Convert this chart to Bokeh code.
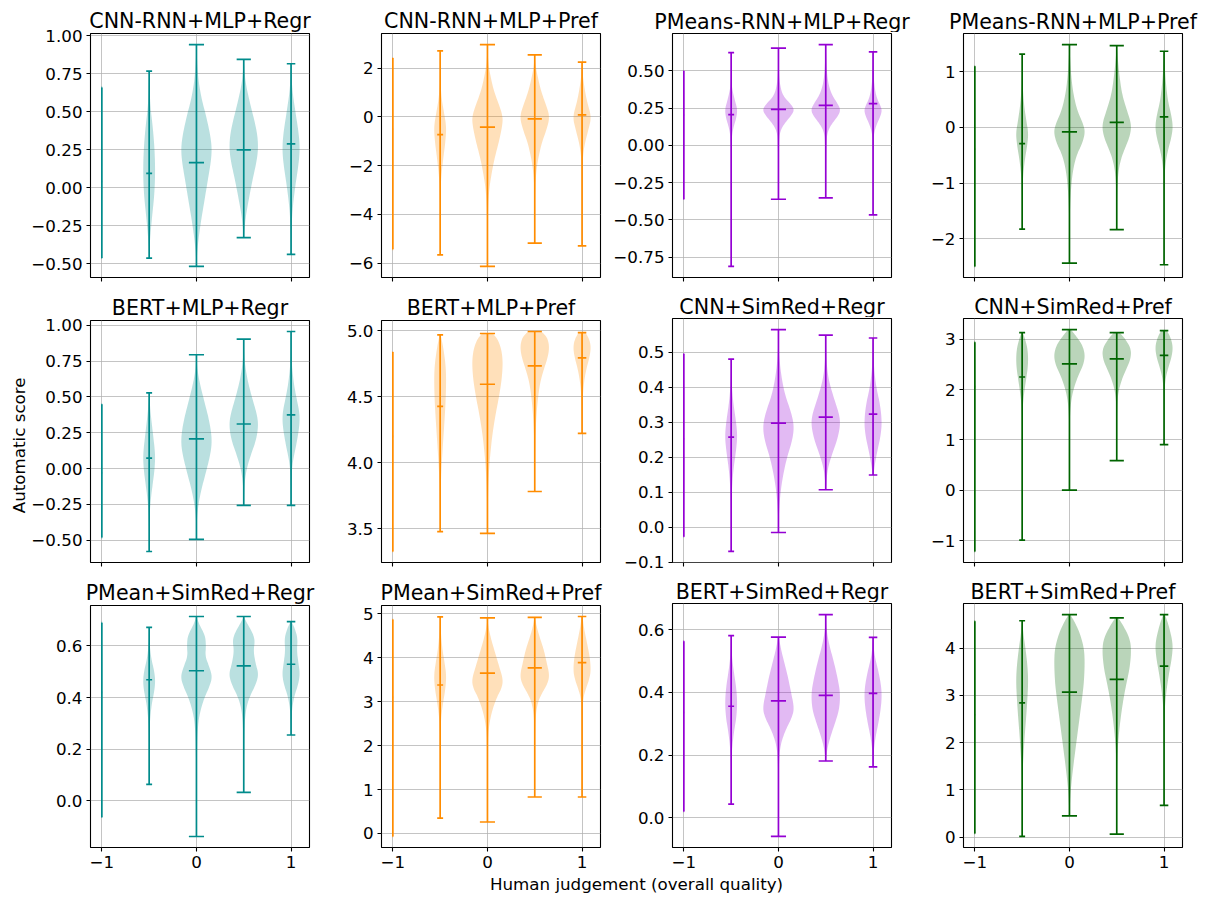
import numpy as np
from bokeh.plotting import figure
from bokeh.layouts import row, column
from bokeh.models import Range1d, FixedTicker
from bokeh.embed import file_html
from bokeh.resources import INLINE
from bokeh.core.properties import value

FONT = "DejaVu Sans"

# ---------------- data ----------------
POSITIONS = [-1.0, -0.5, 0.0, 0.5, 1.0]
VIOLIN_WIDTHS = [0.012, 0.125, 0.32, 0.30, 0.18]
X_TICKS = [-1, 0, 1]
X_TICK_LABELS = ["−1", "0", "1"]
COLUMN_COLORS = ["#008B8B", "#FF8C00", "#9400D3", "#006400"]

TITLES = [
    "CNN-RNN+MLP+Regr", "CNN-RNN+MLP+Pref", "PMeans-RNN+MLP+Regr", "PMeans-RNN+MLP+Pref",
    "BERT+MLP+Regr", "BERT+MLP+Pref", "CNN+SimRed+Regr", "CNN+SimRed+Pref",
    "PMean+SimRed+Regr", "PMean+SimRed+Pref", "BERT+SimRed+Regr", "BERT+SimRed+Pref",
]
X_LABEL = "Human judgement (overall quality)"
Y_LABEL = "Automatic score"

# Panel 1: CNN-RNN+MLP+Regr
P1_MAX = [0.661, 0.769, 0.943, 0.846, 0.817]
P1_MIN = [-0.462, -0.462, -0.517, -0.328, -0.438]
P1_MID = [0.043, 0.096, 0.166, 0.250, 0.290]
P1_SHAPE = [
    None,
    [(0.769, 0), (0.55, 0.15), (0.4, 0.6), (0.25, 0.9), (0.1, 1.0), (-0.05, 0.85), (-0.2, 0.45), (-0.35, 0.12), (-0.462, 0)],
    [(0.943, 0), (0.75, 0.08), (0.6, 0.3), (0.45, 0.7), (0.3, 1.0), (0.2, 1.0), (0.05, 0.75), (-0.1, 0.5), (-0.25, 0.25), (-0.4, 0.06), (-0.517, 0)],
    [(0.846, 0), (0.7, 0.1), (0.55, 0.45), (0.4, 0.85), (0.3, 1.0), (0.2, 0.95), (0.05, 0.6), (-0.1, 0.3), (-0.2, 0.12), (-0.328, 0)],
    [(0.817, 0), (0.65, 0.12), (0.5, 0.5), (0.35, 0.9), (0.25, 1.0), (0.15, 0.85), (0.0, 0.45), (-0.15, 0.15), (-0.3, 0.03), (-0.438, 0)],
]
P1_TICKS = [-0.5, -0.25, 0.0, 0.25, 0.5, 0.75, 1.0]
P1_TICK_LABELS = ["−0.50", "−0.25", "0.00", "0.25", "0.50", "0.75", "1.00"]

# Panel 2: CNN-RNN+MLP+Pref
P2_MAX = [2.42, 2.71, 2.97, 2.55, 2.25]
P2_MIN = [-5.44, -5.67, -6.14, -5.18, -5.30]
P2_MID = [-0.5, -0.73, -0.42, -0.08, 0.08]
P2_SHAPE = [
    None,
    [(2.71, 0), (1.5, 0.05), (0.8, 0.2), (0.2, 0.6), (-0.4, 1.0), (-1.0, 0.85), (-1.8, 0.45), (-2.6, 0.12), (-3.5, 0.02), (-5.67, 0)],
    [(2.97, 0), (2.2, 0.05), (1.5, 0.25), (1.0, 0.45), (0.5, 0.75), (0.0, 1.0), (-0.4, 0.95), (-1.0, 0.75), (-1.6, 0.5), (-2.2, 0.3), (-3.0, 0.1), (-4.0, 0.02), (-6.14, 0)],
    [(2.55, 0), (2.0, 0.08), (1.5, 0.25), (1.0, 0.45), (0.5, 0.75), (0.0, 1.0), (-0.5, 0.8), (-1.0, 0.5), (-1.5, 0.3), (-2.0, 0.15), (-2.6, 0.05), (-3.5, 0.01), (-5.18, 0)],
    [(2.25, 0), (1.8, 0.05), (1.2, 0.25), (0.6, 0.55), (0.0, 1.0), (-0.5, 0.7), (-1.0, 0.35), (-1.5, 0.12), (-2.2, 0.03), (-5.30, 0)],
]
P2_TICKS = [-6, -4, -2, 0, 2]
P2_TICK_LABELS = ["−6", "−4", "−2", "0", "2"]

# Panel 3: PMeans-RNN+MLP+Regr
P3_MAX = [0.50, 0.623, 0.653, 0.677, 0.628]
P3_MIN = [-0.362, -0.813, -0.362, -0.353, -0.467]
P3_MID = [0.204, 0.206, 0.242, 0.269, 0.280]
P3_SHAPE = [
    None,
    [(0.623, 0), (0.45, 0.03), (0.38, 0.15), (0.3, 0.6), (0.24, 1.0), (0.18, 0.8), (0.12, 0.35), (0.05, 0.08), (-0.1, 0.01), (-0.813, 0)],
    [(0.653, 0), (0.5, 0.02), (0.4, 0.1), (0.33, 0.3), (0.28, 0.75), (0.24, 1.0), (0.2, 0.8), (0.15, 0.4), (0.1, 0.12), (0.03, 0.03), (-0.362, 0)],
    [(0.677, 0), (0.6, 0.03), (0.45, 0.1), (0.35, 0.35), (0.28, 0.8), (0.24, 1.0), (0.2, 0.85), (0.15, 0.45), (0.1, 0.15), (0.03, 0.04), (-0.353, 0)],
    [(0.628, 0), (0.5, 0.05), (0.4, 0.15), (0.32, 0.4), (0.26, 0.9), (0.23, 1.0), (0.19, 0.8), (0.14, 0.4), (0.08, 0.1), (0.0, 0.02), (-0.467, 0)],
]
P3_TICKS = [-0.75, -0.5, -0.25, 0.0, 0.25, 0.5]
P3_TICK_LABELS = ["−0.75", "−0.50", "−0.25", "0.00", "0.25", "0.50"]

# Panel 4: PMeans-RNN+MLP+Pref
P4_MAX = [1.10, 1.32, 1.49, 1.47, 1.37]
P4_MIN = [-2.50, -1.83, -2.44, -1.84, -2.47]
P4_MID = [-0.39, -0.29, -0.08, 0.09, 0.19]
P4_SHAPE = [
    None,
    [(1.32, 0), (0.8, 0.05), (0.4, 0.3), (0.1, 0.7), (-0.1, 1.0), (-0.3, 0.85), (-0.6, 0.4), (-0.9, 0.12), (-1.3, 0.02), (-1.83, 0)],
    [(1.49, 0), (1.2, 0.05), (0.9, 0.12), (0.6, 0.25), (0.3, 0.5), (0.05, 0.9), (-0.1, 1.0), (-0.3, 0.8), (-0.5, 0.45), (-0.8, 0.2), (-1.2, 0.07), (-1.7, 0.01), (-2.44, 0)],
    [(1.47, 0), (1.3, 0.05), (1.0, 0.15), (0.6, 0.35), (0.3, 0.7), (0.05, 1.0), (-0.15, 0.9), (-0.35, 0.6), (-0.55, 0.3), (-0.8, 0.1), (-1.2, 0.02), (-1.84, 0)],
    [(1.37, 0), (1.2, 0.05), (0.9, 0.15), (0.5, 0.4), (0.2, 0.85), (0.0, 1.0), (-0.2, 0.8), (-0.4, 0.45), (-0.65, 0.15), (-1.0, 0.03), (-2.47, 0)],
]
P4_TICKS = [-2, -1, 0, 1]
P4_TICK_LABELS = ["−2", "−1", "0", "1"]

# Panel 5: BERT+MLP+Regr
P5_MAX = [0.448, 0.528, 0.794, 0.903, 0.956]
P5_MIN = [-0.481, -0.578, -0.493, -0.257, -0.257]
P5_MID = [-0.03, 0.073, 0.207, 0.311, 0.374]
P5_SHAPE = [
    None,
    [(0.528, 0), (0.4, 0.2), (0.25, 0.6), (0.1, 1.0), (0.0, 0.9), (-0.1, 0.6), (-0.2, 0.3), (-0.3, 0.1), (-0.45, 0.01), (-0.578, 0)],
    [(0.794, 0), (0.7, 0.05), (0.6, 0.2), (0.45, 0.55), (0.32, 0.85), (0.2, 1.0), (0.1, 0.9), (-0.05, 0.55), (-0.15, 0.3), (-0.28, 0.08), (-0.4, 0.01), (-0.493, 0)],
    [(0.903, 0), (0.75, 0.05), (0.62, 0.25), (0.5, 0.55), (0.38, 0.9), (0.3, 1.0), (0.2, 0.85), (0.1, 0.5), (0.0, 0.2), (-0.1, 0.05), (-0.257, 0)],
    [(0.956, 0), (0.75, 0.05), (0.6, 0.3), (0.5, 0.6), (0.4, 0.95), (0.33, 1.0), (0.25, 0.85), (0.15, 0.55), (0.05, 0.2), (-0.05, 0.05), (-0.257, 0)],
]
P5_TICKS = P1_TICKS
P5_TICK_LABELS = P1_TICK_LABELS

# Panel 6: BERT+MLP+Pref
P6_MAX = [4.838, 4.968, 4.978, 4.993, 4.985]
P6_MIN = [3.329, 3.479, 3.466, 3.783, 4.222]
P6_MID = [4.2, 4.426, 4.594, 4.733, 4.793]
P6_SHAPE = [
    None,
    [(4.968, 0.1), (4.85, 0.6), (4.7, 1.0), (4.5, 0.95), (4.3, 0.7), (4.1, 0.4), (3.9, 0.15), (3.7, 0.04), (3.479, 0)],
    [(4.978, 0.35), (4.92, 0.75), (4.8, 1.0), (4.65, 0.95), (4.5, 0.75), (4.35, 0.5), (4.2, 0.3), (4.0, 0.13), (3.8, 0.04), (3.466, 0)],
    [(4.993, 0.45), (4.95, 0.85), (4.88, 1.0), (4.8, 0.9), (4.7, 0.6), (4.6, 0.35), (4.45, 0.18), (4.3, 0.08), (4.1, 0.02), (3.783, 0)],
    [(4.985, 0.4), (4.93, 0.85), (4.87, 1.0), (4.8, 0.85), (4.7, 0.45), (4.6, 0.2), (4.5, 0.08), (4.35, 0.02), (4.222, 0)],
]
P6_TICKS = [3.5, 4.0, 4.5, 5.0]
P6_TICK_LABELS = ["3.5", "4.0", "4.5", "5.0"]

# Panel 7: CNN+SimRed+Regr
P7_MAX = [0.495, 0.480, 0.564, 0.548, 0.540]
P7_MIN = [-0.027, -0.069, -0.015, 0.107, 0.149]
P7_MID = [0.252, 0.257, 0.297, 0.314, 0.323]
P7_SHAPE = [
    None,
    [(0.48, 0), (0.42, 0.05), (0.36, 0.3), (0.3, 0.8), (0.26, 1.0), (0.22, 0.8), (0.17, 0.4), (0.12, 0.15), (0.05, 0.03), (-0.069, 0)],
    [(0.564, 0), (0.5, 0.03), (0.44, 0.15), (0.38, 0.4), (0.33, 0.8), (0.29, 1.0), (0.25, 0.9), (0.2, 0.55), (0.15, 0.3), (0.1, 0.13), (0.04, 0.03), (-0.015, 0)],
    [(0.548, 0), (0.47, 0.05), (0.42, 0.2), (0.37, 0.55), (0.32, 0.95), (0.29, 1.0), (0.25, 0.8), (0.21, 0.45), (0.17, 0.15), (0.13, 0.04), (0.107, 0)],
    [(0.54, 0), (0.46, 0.08), (0.4, 0.35), (0.35, 0.8), (0.3, 1.0), (0.26, 0.85), (0.22, 0.5), (0.18, 0.2), (0.149, 0.05)],
]
P7_TICKS = [-0.1, 0.0, 0.1, 0.2, 0.3, 0.4, 0.5]
P7_TICK_LABELS = ["−0.1", "0.0", "0.1", "0.2", "0.3", "0.4", "0.5"]

# Panel 8: CNN+SimRed+Pref
P8_MAX = [2.94, 3.13, 3.19, 3.13, 3.17]
P8_MIN = [-1.21, -0.985, 0.007, 0.59, 0.91]
P8_MID = [2.06, 2.25, 2.51, 2.61, 2.68]
P8_SHAPE = [
    None,
    [(3.13, 0.1), (3.0, 0.5), (2.8, 0.9), (2.6, 1.0), (2.4, 0.9), (2.2, 0.65), (2.0, 0.4), (1.8, 0.2), (1.6, 0.07), (1.3, 0.02), (-0.985, 0)],
    [(3.19, 0.1), (3.05, 0.45), (2.9, 0.8), (2.7, 1.0), (2.5, 0.9), (2.3, 0.6), (2.1, 0.35), (1.9, 0.18), (1.7, 0.08), (1.4, 0.02), (0.8, 0.005), (0.007, 0)],
    [(3.13, 0.2), (3.0, 0.6), (2.8, 1.0), (2.6, 0.95), (2.4, 0.65), (2.2, 0.35), (2.0, 0.15), (1.8, 0.05), (1.4, 0.01), (0.59, 0)],
    [(3.17, 0.3), (3.05, 0.7), (2.85, 1.0), (2.65, 0.85), (2.45, 0.5), (2.25, 0.2), (2.05, 0.07), (1.7, 0.02), (0.91, 0)],
]
P8_TICKS = [-1, 0, 1, 2, 3]
P8_TICK_LABELS = ["−1", "0", "1", "2", "3"]

# Panel 9: PMean+SimRed+Regr
P9_MAX = [0.690, 0.672, 0.714, 0.714, 0.694]
P9_MIN = [-0.063, 0.064, -0.138, 0.033, 0.255]
P9_MID = [0.42, 0.469, 0.504, 0.523, 0.529]
P9_SHAPE = [
    None,
    [(0.672, 0), (0.6, 0.1), (0.55, 0.35), (0.5, 0.85), (0.46, 1.0), (0.42, 0.8), (0.38, 0.45), (0.33, 0.2), (0.28, 0.07), (0.2, 0.02), (0.064, 0)],
    [(0.714, 0), (0.68, 0.2), (0.64, 0.55), (0.6, 0.6), (0.56, 0.55), (0.52, 0.8), (0.48, 1.0), (0.44, 0.8), (0.4, 0.5), (0.35, 0.25), (0.3, 0.1), (0.2, 0.03), (0.0, 0.005), (-0.138, 0)],
    [(0.714, 0), (0.69, 0.2), (0.65, 0.6), (0.62, 0.75), (0.58, 0.65), (0.53, 0.8), (0.49, 1.0), (0.45, 0.8), (0.41, 0.45), (0.37, 0.2), (0.31, 0.06), (0.2, 0.02), (0.033, 0)],
    [(0.694, 0.05), (0.67, 0.4), (0.63, 0.75), (0.58, 0.65), (0.53, 0.85), (0.49, 1.0), (0.45, 0.8), (0.41, 0.4), (0.36, 0.12), (0.3, 0.03), (0.255, 0)],
]
P9_TICKS = [0.0, 0.2, 0.4, 0.6]
P9_TICK_LABELS = ["0.0", "0.2", "0.4", "0.6"]

# Panel 10: PMean+SimRed+Pref
P10_MAX = [4.87, 4.93, 4.91, 4.92, 4.94]
P10_MIN = [-0.07, 0.35, 0.26, 0.83, 0.83]
P10_MID = [3.1, 3.38, 3.65, 3.77, 3.89]
P10_SHAPE = [
    None,
    [(4.93, 0.02), (4.6, 0.1), (4.2, 0.35), (3.9, 0.7), (3.6, 1.0), (3.3, 0.85), (3.0, 0.5), (2.7, 0.2), (2.4, 0.07), (2.0, 0.02), (0.35, 0)],
    [(4.91, 0), (4.7, 0.06), (4.4, 0.25), (4.1, 0.5), (3.8, 0.75), (3.5, 1.0), (3.3, 0.9), (3.1, 0.6), (2.8, 0.3), (2.5, 0.12), (2.2, 0.04), (1.5, 0.01), (0.26, 0)],
    [(4.92, 0.02), (4.75, 0.1), (4.5, 0.3), (4.2, 0.6), (3.9, 0.8), (3.6, 1.0), (3.4, 0.85), (3.2, 0.5), (3.0, 0.22), (2.7, 0.06), (2.2, 0.01), (0.83, 0)],
    [(4.94, 0.05), (4.7, 0.2), (4.4, 0.5), (4.0, 0.9), (3.7, 1.0), (3.5, 0.8), (3.3, 0.45), (3.1, 0.15), (2.8, 0.04), (0.83, 0)],
]
P10_TICKS = [0, 1, 2, 3, 4, 5]
P10_TICK_LABELS = ["0", "1", "2", "3", "4", "5"]

# Panel 11: BERT+SimRed+Regr
P11_MAX = [0.564, 0.582, 0.577, 0.649, 0.576]
P11_MIN = [0.020, 0.043, -0.060, 0.181, 0.162]
P11_MID = [0.336, 0.356, 0.373, 0.391, 0.397]
P11_SHAPE = [
    None,
    [(0.582, 0), (0.52, 0.1), (0.47, 0.4), (0.42, 0.8), (0.37, 1.0), (0.32, 0.85), (0.28, 0.5), (0.24, 0.25), (0.2, 0.08), (0.15, 0.02), (0.043, 0)],
    [(0.577, 0.03), (0.54, 0.15), (0.5, 0.35), (0.45, 0.6), (0.4, 0.8), (0.35, 1.0), (0.32, 0.85), (0.29, 0.55), (0.26, 0.3), (0.23, 0.13), (0.19, 0.04), (0.1, 0.01), (-0.06, 0)],
    [(0.649, 0), (0.6, 0.05), (0.55, 0.25), (0.5, 0.55), (0.45, 0.8), (0.4, 1.0), (0.35, 0.95), (0.31, 0.7), (0.27, 0.4), (0.23, 0.15), (0.2, 0.05), (0.181, 0.02)],
    [(0.576, 0), (0.52, 0.15), (0.47, 0.6), (0.42, 0.95), (0.38, 1.0), (0.34, 0.85), (0.3, 0.6), (0.26, 0.3), (0.22, 0.1), (0.18, 0.02), (0.162, 0)],
]
P11_TICKS = [0.0, 0.2, 0.4, 0.6]
P11_TICK_LABELS = ["0.0", "0.2", "0.4", "0.6"]

# Panel 12: BERT+SimRed+Pref
P12_MAX = [4.57, 4.58, 4.71, 4.64, 4.71]
P12_MIN = [0.078, 0.014, 0.45, 0.064, 0.67]
P12_MID = [2.59, 2.84, 3.07, 3.34, 3.62]
P12_SHAPE = [
    None,
    [(4.58, 0.02), (4.3, 0.2), (4.0, 0.55), (3.6, 0.9), (3.3, 1.0), (3.0, 0.9), (2.6, 0.7), (2.2, 0.45), (1.8, 0.25), (1.4, 0.08), (1.0, 0.02), (0.014, 0)],
    [(4.71, 0.05), (4.55, 0.35), (4.3, 0.7), (4.0, 0.95), (3.7, 1.0), (3.3, 0.95), (3.0, 0.85), (2.5, 0.65), (2.0, 0.45), (1.5, 0.25), (1.0, 0.08), (0.6, 0.02), (0.45, 0)],
    [(4.64, 0.1), (4.45, 0.5), (4.2, 0.9), (3.95, 1.0), (3.6, 0.9), (3.3, 0.7), (3.0, 0.5), (2.6, 0.3), (2.2, 0.15), (1.8, 0.05), (1.3, 0.01), (0.064, 0)],
    [(4.71, 0.1), (4.5, 0.5), (4.2, 0.9), (4.0, 1.0), (3.75, 0.85), (3.5, 0.6), (3.2, 0.35), (2.9, 0.15), (2.6, 0.06), (2.2, 0.02), (0.67, 0)],
]
P12_TICKS = [0, 1, 2, 3, 4]
P12_TICK_LABELS = ["0", "1", "2", "3", "4"]

PANELS = [
    (P1_MAX, P1_MIN, P1_MID, P1_SHAPE, P1_TICKS, P1_TICK_LABELS),
    (P2_MAX, P2_MIN, P2_MID, P2_SHAPE, P2_TICKS, P2_TICK_LABELS),
    (P3_MAX, P3_MIN, P3_MID, P3_SHAPE, P3_TICKS, P3_TICK_LABELS),
    (P4_MAX, P4_MIN, P4_MID, P4_SHAPE, P4_TICKS, P4_TICK_LABELS),
    (P5_MAX, P5_MIN, P5_MID, P5_SHAPE, P5_TICKS, P5_TICK_LABELS),
    (P6_MAX, P6_MIN, P6_MID, P6_SHAPE, P6_TICKS, P6_TICK_LABELS),
    (P7_MAX, P7_MIN, P7_MID, P7_SHAPE, P7_TICKS, P7_TICK_LABELS),
    (P8_MAX, P8_MIN, P8_MID, P8_SHAPE, P8_TICKS, P8_TICK_LABELS),
    (P9_MAX, P9_MIN, P9_MID, P9_SHAPE, P9_TICKS, P9_TICK_LABELS),
    (P10_MAX, P10_MIN, P10_MID, P10_SHAPE, P10_TICKS, P10_TICK_LABELS),
    (P11_MAX, P11_MIN, P11_MID, P11_SHAPE, P11_TICKS, P11_TICK_LABELS),
    (P12_MAX, P12_MIN, P12_MID, P12_SHAPE, P12_TICKS, P12_TICK_LABELS),
]

# ---------------- helpers ----------------
def chaikin(pts, n=3):
    pts = np.asarray(pts, dtype=float)
    for _ in range(n):
        q = 0.75 * pts[:-1] + 0.25 * pts[1:]
        r = 0.25 * pts[:-1] + 0.75 * pts[1:]
        new = np.empty((2 * len(q), 2))
        new[0::2] = q
        new[1::2] = r
        pts = np.vstack([pts[:1], new, pts[-1:]])
    return pts


def violin_outline(pos, width, vmax, vmin, vmid, shape):
    if shape is None:
        shape = [(vmax, 0.0), (vmid, 1.0), (vmin, 0.0)]
    prof = chaikin(shape, 3)
    ys = prof[:, 0]
    ws = np.clip(prof[:, 1], 0, None)
    ws = ws / ws.max()
    hw = ws * width / 2.0
    xs = np.concatenate([pos + hw, (pos - hw)[::-1]])
    yy = np.concatenate([ys, ys[::-1]])
    return list(xs), list(yy)


# layout sizes (pixels); the page itself starts at (0, 0)
FRAME_W, FRAME_H = 219, 244
B_LEFT, B_RIGHT = 62, 10
ROW_TOP = [33, 25, 25]            # space above each row's frames
B_BOTTOM_INNER, B_BOTTOM_LAST = 16, 28
CELL_W = B_LEFT + FRAME_W + B_RIGHT
LEFT_STRIP_W = 28
PAGE_W = 1210
TICK_FS = "16.7px"
TITLE_FS = "20.6px"
LINE_W = 1.7
X_LO, X_HI = -1.12, 1.195


def blank_figure(w, h):
    f = figure(width=w, height=h, x_range=Range1d(0, w), y_range=Range1d(0, h),
               toolbar_location=None, output_backend="svg", min_border=0,
               x_axis_location=None, y_axis_location=None, outline_line_color=None,
               background_fill_color="white", border_fill_color="white")
    f.grid.visible = False
    return f


def make_panel(idx, top, own_title):
    vmax, vmin, vmid, shapes, ticks, tick_labels = PANELS[idx]
    r, c = divmod(idx, 4)
    color = COLUMN_COLORS[c]
    last_row = (r == 2)
    b_bottom = B_BOTTOM_LAST if last_row else B_BOTTOM_INNER
    lo, hi = min(vmin), max(vmax)
    pad = 0.05 * (hi - lo)
    p = figure(
        width=CELL_W, height=top + FRAME_H + b_bottom,
        x_range=Range1d(X_LO, X_HI), y_range=Range1d(lo - pad, hi + pad),
        toolbar_location=None, output_backend="svg",
        min_border_left=B_LEFT, min_border_right=B_RIGHT,
        min_border_top=top, min_border_bottom=b_bottom,
        background_fill_color="white", border_fill_color="white",
        outline_line_color="black", outline_line_width=1.1,
    )
    if own_title:
        p.title.text = TITLES[idx]
        p.title.align = "center"
        p.title.text_font = FONT
        p.title.text_font_size = TITLE_FS
        p.title.text_font_style = "normal"
        p.title.text_color = "black"
        p.title.standoff = 1

    p.xaxis.ticker = FixedTicker(ticks=X_TICKS)
    if last_row:
        p.xaxis.major_label_overrides = {t: l for t, l in zip(X_TICKS, X_TICK_LABELS)}
    else:
        p.xaxis.major_label_overrides = {t: "" for t in X_TICKS}
    p.yaxis.ticker = FixedTicker(ticks=ticks)
    p.yaxis.major_label_overrides = {t: l for t, l in zip(ticks, tick_labels)}
    for ax in (p.xaxis[0], p.yaxis[0]):
        ax.axis_line_color = None
        ax.major_tick_line_color = "black"
        ax.major_tick_line_width = 1.1
        ax.major_tick_out = 4
        ax.major_tick_in = 0
        ax.minor_tick_line_color = None
        ax.major_label_text_font = FONT
        ax.major_label_text_font_size = TICK_FS
        ax.major_label_text_color = "black"
        ax.major_label_standoff = 4
    if not last_row:
        p.xaxis.major_label_text_font_size = "1px"
        p.xaxis.major_label_standoff = 0

    p.grid.grid_line_color = "#b0b0b0"
    p.grid.grid_line_width = 1.0
    p.grid.grid_line_alpha = 0.75

    xs_all, ys_all = [], []
    for pos, w, a, b, m, s in zip(POSITIONS, VIOLIN_WIDTHS, vmax, vmin, vmid, shapes):
        xs, ys = violin_outline(pos, w, a, b, m, s)
        xs_all.append(xs)
        ys_all.append(ys)
    p.patches(xs=xs_all, ys=ys_all, fill_color=color, fill_alpha=0.27, line_color=None)

    # vertical range bars
    p.segment(x0=POSITIONS, y0=vmin, x1=POSITIONS, y1=vmax, line_color=color, line_width=LINE_W)
    # caps and centre marks (half-length = width/4 as in matplotlib)
    x0 = [pp - w / 4 for pp, w in zip(POSITIONS, VIOLIN_WIDTHS)]
    x1 = [pp + w / 4 for pp, w in zip(POSITIONS, VIOLIN_WIDTHS)]
    for yv in (vmax, vmin, vmid):
        p.segment(x0=x0, y0=yv, x1=x1, y1=yv, line_color=color, line_width=LINE_W)
    return p


rows = []
for r in range(3):
    top = ROW_TOP[r]
    fig_h = top + FRAME_H + (B_BOTTOM_LAST if r == 2 else B_BOTTOM_INNER)

    # left strip holding the shared y label
    ls = blank_figure(LEFT_STRIP_W, fig_h)
    if r == 1:
        ls.text(x=[18], y=[fig_h - (top + FRAME_H / 2)], text=[Y_LABEL], angle=np.pi / 2,
                text_font=value(FONT), text_font_size=TICK_FS, text_align="center",
                text_baseline="middle", text_color="black")

    # first two columns carry their own titles
    f0 = make_panel(4 * r + 0, top, True)
    f1 = make_panel(4 * r + 1, top, True)

    # last two columns: a title strip (titles may overhang the frames) above the panels
    strip_w = PAGE_W - (LEFT_STRIP_W + 2 * CELL_W)
    ts = blank_figure(strip_w, top - 1)
    tx = [B_LEFT + FRAME_W / 2, CELL_W + B_LEFT + FRAME_W / 2]
    ts.text(x=tx, y=[(top - 1) - (top - 12)] * 2, text=TITLES[4 * r + 2:4 * r + 4],
            text_font=value(FONT), text_font_size=TITLE_FS, text_align="center",
            text_baseline="middle", text_color="black")
    f2 = make_panel(4 * r + 2, 1, False)
    f3 = make_panel(4 * r + 3, 1, False)

    rows.append(row(ls, f0, f1, column(ts, row(f2, f3))))

# shared x label, centred in the gap between the 2nd and 3rd panel columns
gap_centre = LEFT_STRIP_W + 2 * CELL_W + (B_LEFT - B_RIGHT) / 2
xl = blank_figure(LEFT_STRIP_W + 4 * CELL_W, 20)
xl.text(x=[gap_centre], y=[12], text=[X_LABEL], text_font=value(FONT), text_font_size=TICK_FS,
        text_align="center", text_baseline="middle", text_color="black")
rows.append(xl)

layout = column(*rows)
open("out.html", "w").write(file_html(layout, INLINE))
